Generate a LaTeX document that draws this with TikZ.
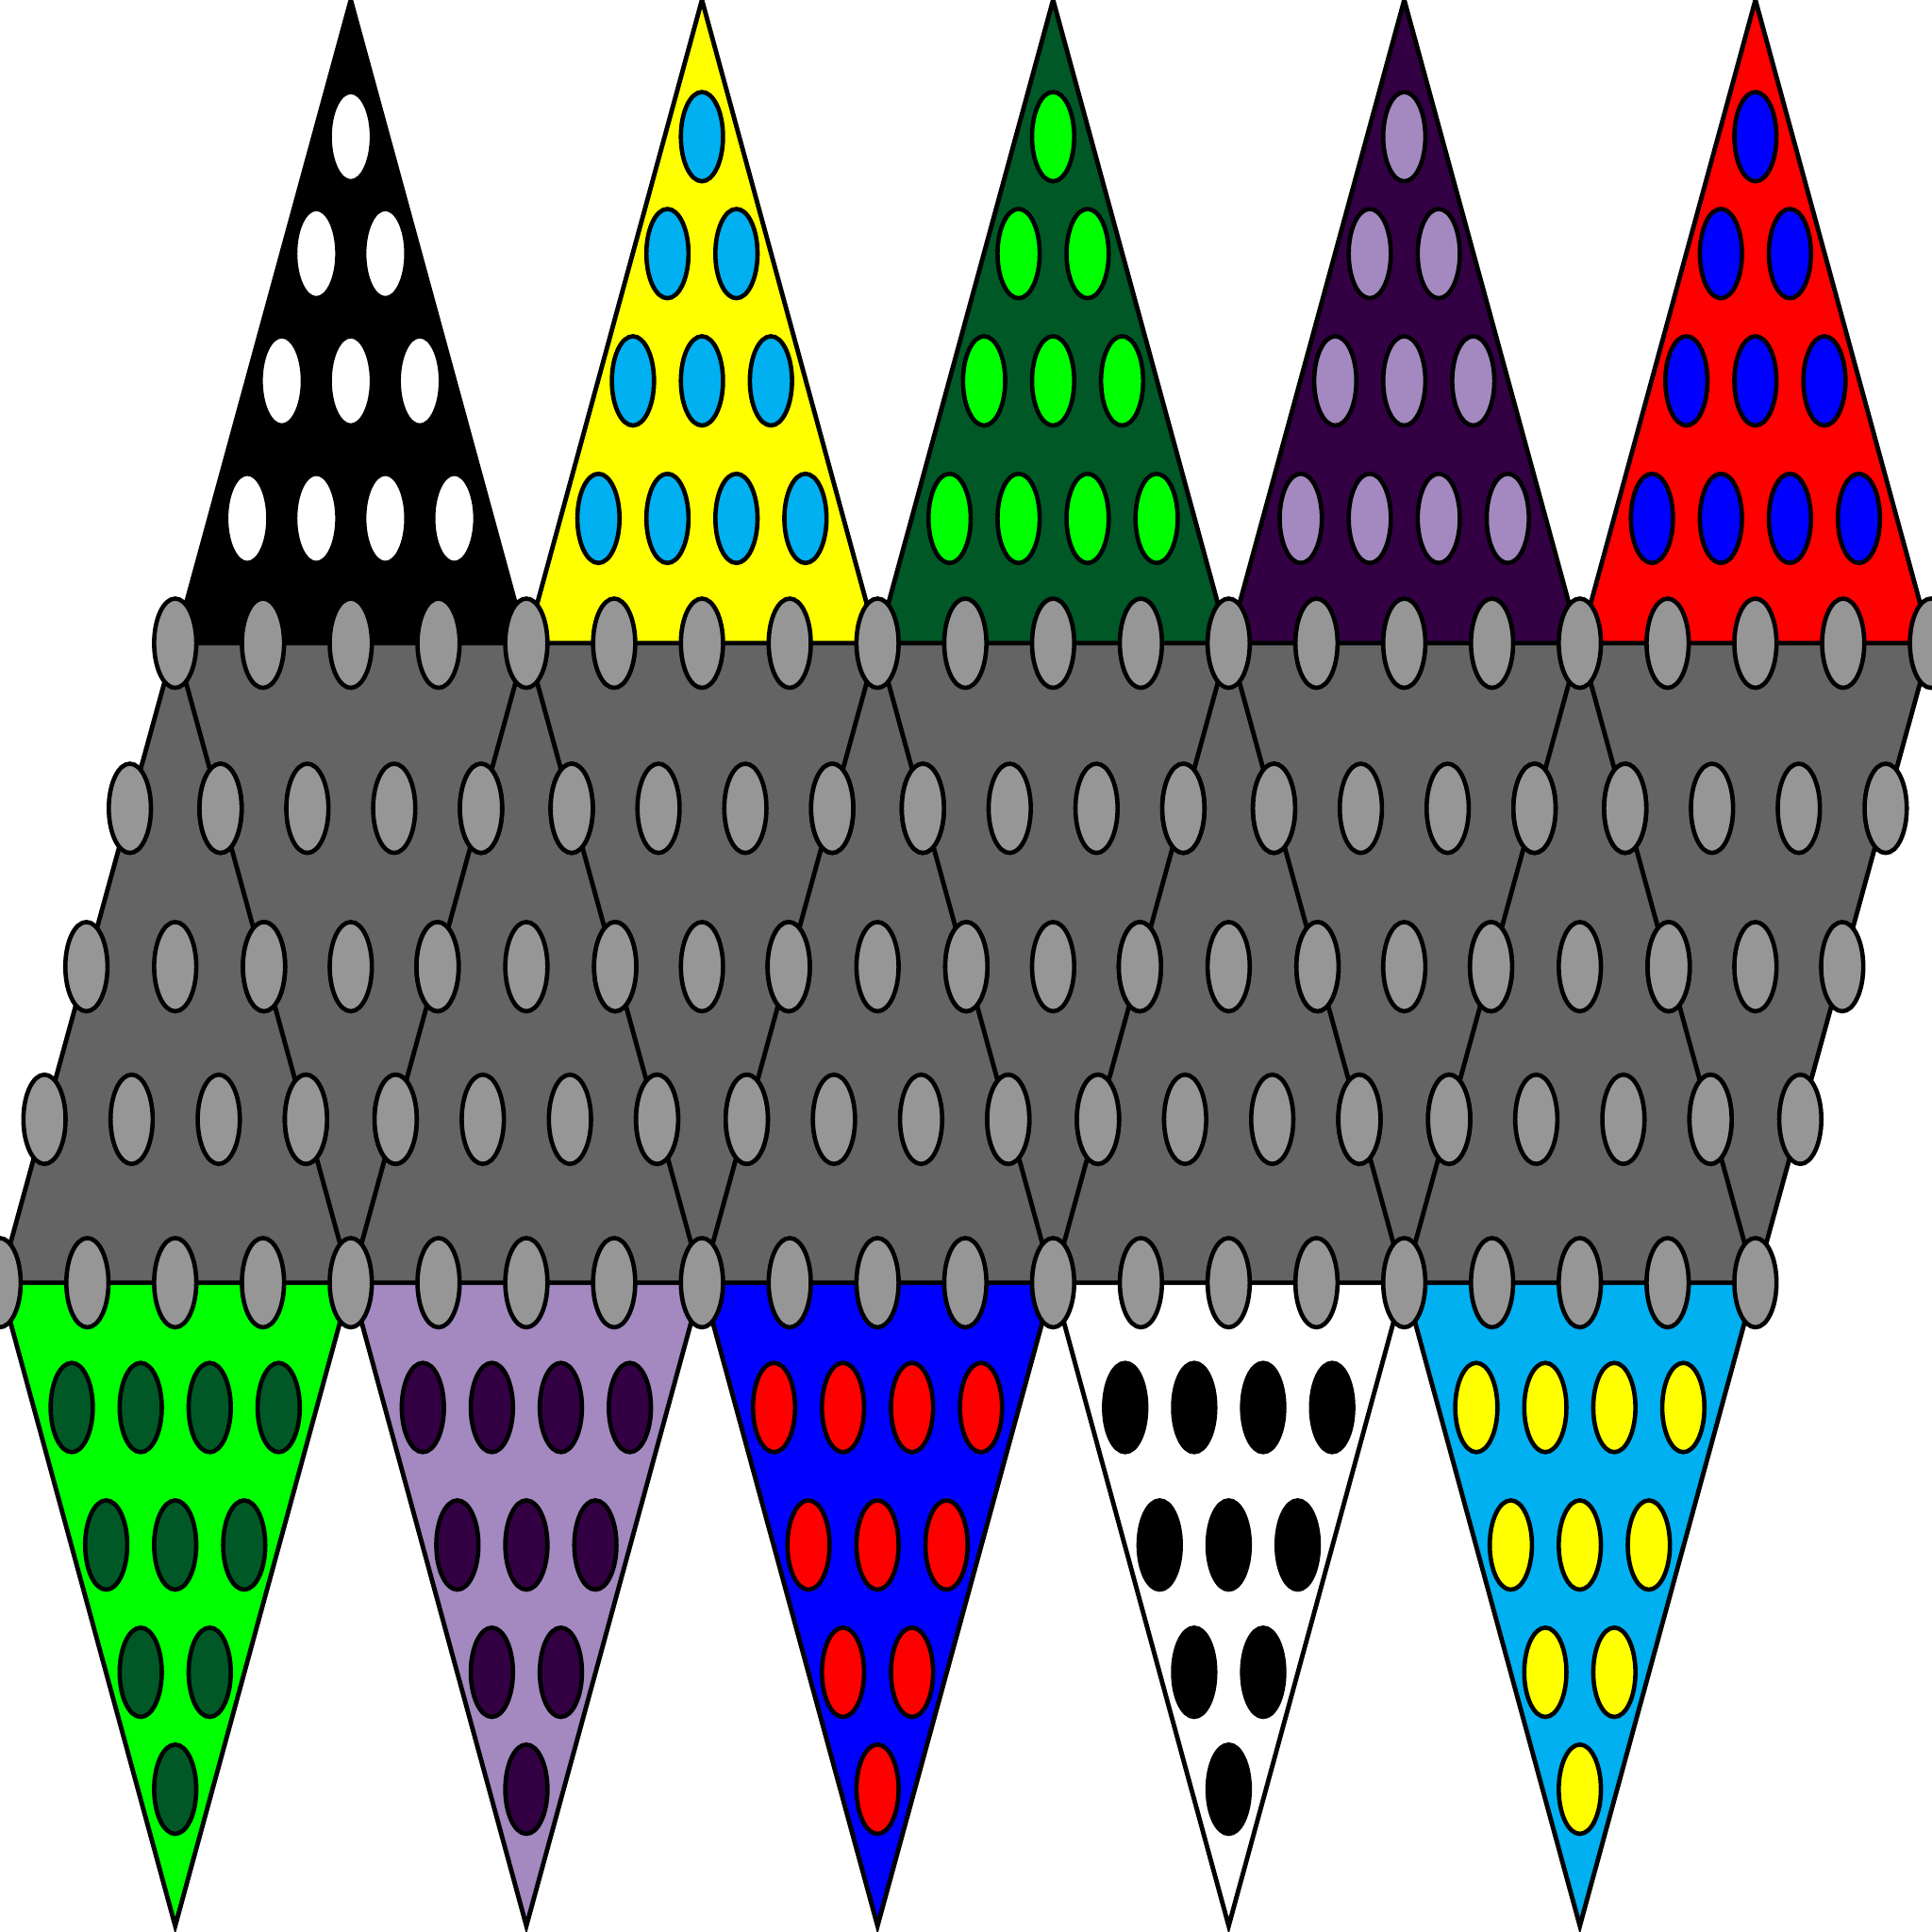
\documentclass[tikz,border=0pt]{standalone}
\definecolor{dgreen}{HTML}{005826}
\definecolor{lgreen}{HTML}{00FF00}
\definecolor{dpurple}{HTML}{330044}
\definecolor{lpurple}{HTML}{A389C0}
\definecolor{cyanb}{HTML}{00B0F0}
\definecolor{pureyellow}{HTML}{FFFF00}
\definecolor{boardgray}{HTML}{646464}
\definecolor{holegray}{HTML}{969696}
\tikzset{
  hole/.style={draw=black, line width=1pt},
  spike/.style={draw=black, line width=1.05pt},
  seam/.style={draw=black, line width=1.05pt},
}
\newcommand{\peg}[3]{\path[hole, fill=#1] (#2,#3) ellipse [x radius=0.171cm, y radius=0.362cm];}
\begin{document}
\begin{tikzpicture}[x=0.01cm, y=-0.01cm]
\useasboundingbox (0,0) rectangle (1568,1568);
\clip (0,0) rectangle (1568,1568);
% board
\fill[boardgray] (142.2,522) -- (1567.2,522) -- (1424.7,1041) -- (-0.3,1041) -- cycle;
\foreach \k in {0,...,5} {\draw[seam] ({142.2+285*\k},522) -- ({-0.3+285*\k},1041);}
\foreach \k in {0,...,4} {\draw[seam] ({142.2+285*\k},522) -- ({284.7+285*\k},1041);}
% top spikes
\foreach \k/\bg/\c in {0/black/white, 1/pureyellow/cyanb, 2/dgreen/lgreen, 3/dpurple/lpurple, 4/red/blue} {
  \pgfmathsetmacro\a{284.7+285*\k}
  \path[spike, fill=\bg] (\a,0) -- ({\a-142.5},522) -- ({\a+142.5},522) -- cycle;
  \foreach \dx/\yy in {0/110.9, -28/205.8, 28/205.8, -56/309.1, 0/309.1, 56/309.1, -84/420.7, -28/420.7, 28/420.7, 84/420.7}
    {\peg{\c}{{\a+(\dx)}}{\yy}}
}
% bottom spikes
\foreach \j/\bg/\c in {0/lgreen/dgreen, 1/lpurple/dpurple, 2/blue/red, 3/white/black, 4/cyanb/pureyellow} {
  \pgfmathsetmacro\b{142.2+285*\j}
  \path[spike, fill=\bg] (\b,1563) -- ({\b-142.5},1041) -- ({\b+142.5},1041) -- cycle;
  \foreach \dx/\yy in {0/1452.1, -28/1357.2, 28/1357.2, -56/1253.9, 0/1253.9, 56/1253.9, -84/1142.3, -28/1142.3, 28/1142.3, 84/1142.3}
    {\peg{\c}{{\b+(\dx)}}{\yy}}
}
% board holes
\foreach \i in {0,...,20} {
  \peg{holegray}{{142.2+71.25*\i}}{522}
  \peg{holegray}{{-0.3+71.25*\i}}{1041}
}
\foreach \r/\yy/\t in {1/656/0.2582, 2/784.5/0.5058, 3/908.4/0.7445} {
  \pgfmathtruncatemacro\nd{4-\r}
  \foreach \k in {0,...,4} {
    \foreach \i in {0,...,\nd} {
      \pgfmathsetmacro\xx{142.2+285*\k+142.5*\t+(285-285*\t)*\i/\nd}
      \peg{holegray}{\xx}{\yy}
    }
    \foreach \i in {0,...,\r} {
      \pgfmathsetmacro\xx{142.2+285*\k-142.5*\t+285*\t*\i/\r}
      \peg{holegray}{\xx}{\yy}
    }
  }
}
\end{tikzpicture}
\end{document}
